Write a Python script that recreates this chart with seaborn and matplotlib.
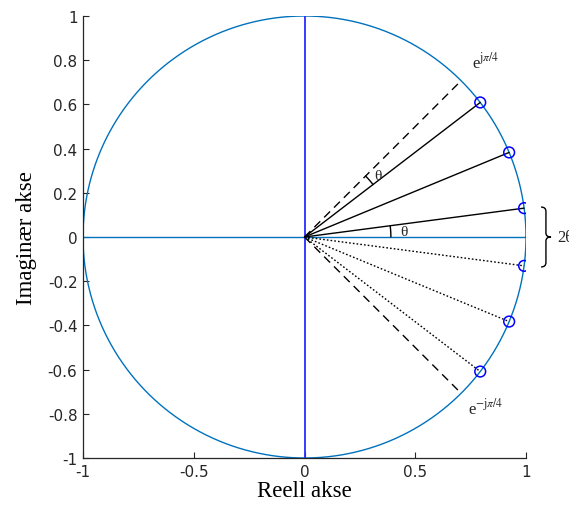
import numpy as np
import pandas as pd
import matplotlib
matplotlib.use('Agg')
import matplotlib.pyplot as plt
from matplotlib.path import Path
from matplotlib.patches import PathPatch
import seaborn as sns

# pole angles in degrees (upper half; lower half are conjugates)
pole_angles = [7.5, 22.5, 37.5]
ref_angle = 45.0          # e^{j pi/4}
theta_arc_r = 0.39
x_ticks = [-1, -0.5, 0, 0.5, 1]
y_ticks = [-1, -0.8, -0.6, -0.4, -0.2, 0, 0.2, 0.4, 0.6, 0.8, 1]

matlab_blue = '#0072BD'

sns.set_theme(style='ticks')
plt.rcParams['font.family'] = ['DejaVu Sans']
plt.rcParams['mathtext.fontset'] = 'stix'

fig = plt.figure(figsize=(5.69, 5.10), dpi=100)
ax = fig.add_axes([83 / 569, 51 / 510, 443 / 569, 442 / 510])

# unit circle
t = np.linspace(0, 2 * np.pi, 400)
circle = pd.DataFrame({'re': np.cos(t), 'im': np.sin(t)})
sns.lineplot(data=circle, x='re', y='im', sort=False, estimator=None,
             color=matlab_blue, lw=1, ax=ax)

# axes lines
ax.plot([-1, 1], [0, 0], color=matlab_blue, lw=1)
ax.plot([0, 0], [-1, 1], color='#2b2bff', lw=1.3)

# poles and lines from origin
ang = np.deg2rad(np.array(pole_angles))
poles = pd.DataFrame({'re': np.concatenate([np.cos(ang), np.cos(ang)]),
                      'im': np.concatenate([np.sin(ang), -np.sin(ang)])})
for a in ang:
    ax.plot([0, np.cos(a)], [0, np.sin(a)], color='black', lw=1)
    ax.plot([0, np.cos(a)], [0, -np.sin(a)], color='black', lw=1, linestyle=(0, (1.2, 1.5)))
sns.scatterplot(data=poles, x='re', y='im', marker='o', s=60, facecolors='none',
                edgecolor='blue', linewidth=1.1, ax=ax, zorder=5)

# dashed lines to e^{+-j pi/4}
r = np.deg2rad(ref_angle)
ax.plot([0, np.cos(r)], [0, np.sin(r)], color='black', lw=1, linestyle=(0, (6, 4)))
ax.plot([0, np.cos(r)], [0, -np.sin(r)], color='black', lw=1, linestyle=(0, (6, 4)))

# theta arcs
a1 = np.linspace(np.deg2rad(pole_angles[2]), r, 10)
ax.plot(theta_arc_r * np.cos(a1), theta_arc_r * np.sin(a1), color='black', lw=1)
a2 = np.linspace(0, np.deg2rad(pole_angles[0]), 10)
ax.plot(theta_arc_r * np.cos(a2), theta_arc_r * np.sin(a2), color='black', lw=1)

serif = ['Liberation Serif', 'DejaVu Serif']
ax.text(0.33, 0.28, 'θ', fontsize=11, family=serif, ha='center', va='center')
ax.text(0.45, 0.025, 'θ', fontsize=11, family=serif, ha='center', va='center')
ax.text(0.82, 0.795, r'e$^{\mathrm{j}\pi/4}$', fontsize=12, family=serif, ha='center', va='center')
ax.text(0.82, -0.77, r'e$^{\mathrm{-j}\pi/4}$', fontsize=12, family=serif, ha='center', va='center')

# curly brace spanning the 2*theta between the conjugate poles
bx0, bx1, bx2 = 1.068, 1.090, 1.113
by = np.sin(ang[0]) + 0.005
verts = [(bx0, by), (bx1, by), (bx1, by - 0.02),
         (bx1, 0.018), (bx1, 0.0), (bx2, 0.0),
         (bx1, 0.0), (bx1, -0.018),
         (bx1, -by + 0.02), (bx1, -by), (bx0, -by)]
codes = [Path.MOVETO, Path.CURVE3, Path.CURVE3,
         Path.LINETO, Path.CURVE3, Path.CURVE3,
         Path.CURVE3, Path.CURVE3,
         Path.LINETO, Path.CURVE3, Path.CURVE3]
ax.add_patch(PathPatch(Path(verts, codes), facecolor='none', edgecolor='black',
                       lw=1, clip_on=False))
ax.text(1.14, 0.0, '2θ', fontsize=12, family=serif, ha='left', va='center', clip_on=False)

ax.set_xlim(-1, 1)
ax.set_ylim(-1, 1)
ax.set_xticks(x_ticks)
ax.set_xticklabels([('%g' % v) for v in x_ticks])
ax.set_yticks(y_ticks)
ax.set_yticklabels([('%g' % v) for v in y_ticks])
ax.tick_params(direction='in', length=4, width=0.8, labelsize=11, colors='#262626', pad=4)
sns.despine(ax=ax)
for s in ['left', 'bottom']:
    ax.spines[s].set_color('#262626')
    ax.spines[s].set_linewidth(0.9)

ax.set_xlabel('Reell akse', family=serif, fontsize=16.5, color='black', labelpad=1)
ax.set_ylabel('Imaginær akse', family=serif, fontsize=16.5, color='black', labelpad=8)

fig.savefig('out.png', dpi=100)
